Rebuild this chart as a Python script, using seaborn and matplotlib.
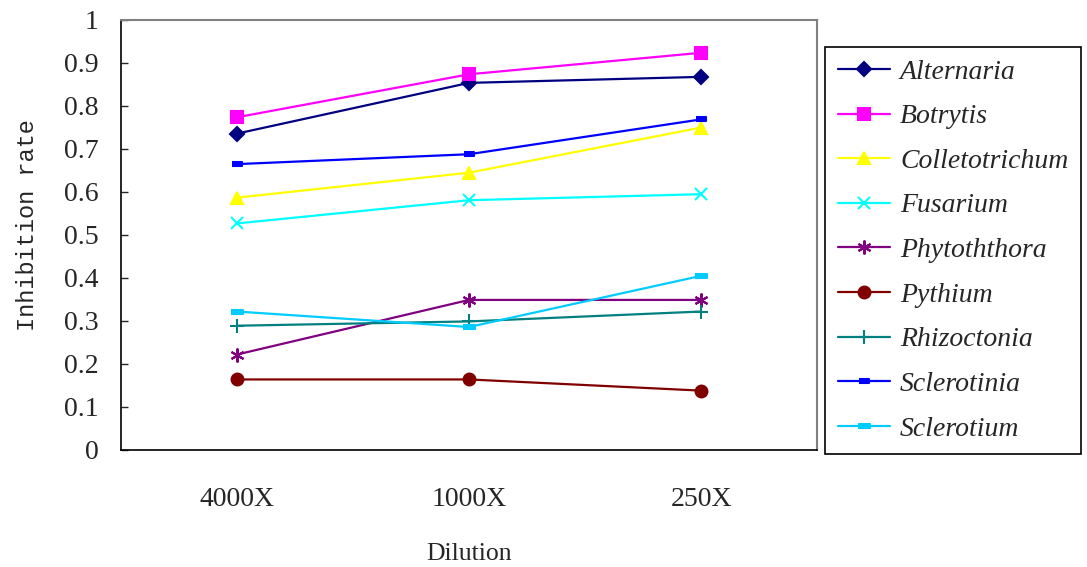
import matplotlib
matplotlib.use("Agg")
import matplotlib.pyplot as plt
import seaborn as sns
import pandas as pd

dilutions = ["4000X", "1000X", "250X"]
alternaria = [0.735, 0.853, 0.867]
botrytis = [0.773, 0.873, 0.923]
colletotrichum = [0.586, 0.644, 0.749]
fusarium = [0.526, 0.580, 0.594]
phytophthora = [0.221, 0.348, 0.348]
pythium = [0.163, 0.163, 0.137]
rhizoctonia = [0.288, 0.298, 0.321]
sclerotinia = [0.664, 0.687, 0.768]
sclerotium = [0.321, 0.285, 0.404]

series_names = ["Alternaria", "Botrytis", "Colletotrichum", "Fusarium",
                "Phytoththora", "Pythium", "Rhizoctonia", "Sclerotinia", "Sclerotium"]
series_values = [alternaria, botrytis, colletotrichum, fusarium,
                 phytophthora, pythium, rhizoctonia, sclerotinia, sclerotium]
y_ticks = [0, 0.1, 0.2, 0.3, 0.4, 0.5, 0.6, 0.7, 0.8, 0.9, 1]
y_tick_labels = ["0", "0.1", "0.2", "0.3", "0.4", "0.5", "0.6", "0.7", "0.8", "0.9", "1"]

colors = ["#000080", "#FF00FF", "#FFFF00", "#00FFFF", "#800080",
          "#800000", "#008080", "#0000FF", "#00CCFF"]
bar_small = [(-2, -0.8), (2, -0.8), (2, 0.8), (-2, 0.8)]
bar_big = [(-2.2, -0.9), (2.2, -0.9), (2.2, 0.9), (-2.2, 0.9)]
markers = ["D", "s", "^", "x", (6, 2, 0), "o", "+", bar_small, bar_big]
msizes = [7.5, 8.5, 9, 9, 10, 8.5, 10, 7, 8]

sns.set_theme(style="white")
plt.rcParams["font.family"] = ["Liberation Serif", "DejaVu Serif"]

rows = []
for name, vals in zip(series_names, series_values):
    for d, v in zip(dilutions, vals):
        rows.append({"Dilution": d, "Inhibition rate": v, "Series": name})
df = pd.DataFrame(rows)

fig = plt.figure(figsize=(10.87, 5.67), dpi=100)
ax = fig.add_axes([121 / 1087, 1 - 449.5 / 567, (817 - 121) / 1087, (449.5 - 19.7) / 567])

for name, c, m, ms in zip(series_names, colors, markers, msizes):
    sub = df[df["Series"] == name]
    sns.lineplot(data=sub, x="Dilution", y="Inhibition rate", ax=ax, color=c,
                 marker=m, markersize=ms, markeredgecolor=c, markerfacecolor=c,
                 markeredgewidth=1.5, linewidth=1.6, label=name, sort=False)

ax.set_xlim(-0.5, 2.5)
ax.set_ylim(0, 1)
ax.set_yticks(y_ticks)
ax.set_yticklabels(y_tick_labels)
ax.tick_params(axis="y", direction="in", length=5, width=1, labelsize=20, pad=16, left=True)
ax.tick_params(axis="x", length=0, labelsize=20, pad=27)
ax.set_xlabel("Dilution", fontsize=18.5, labelpad=22)
ax.set_ylabel("Inhibition rate", fontsize=17,
              family=["Liberation Mono", "DejaVu Sans Mono"])
ax.yaxis.set_label_coords(-0.118, 0.522)

for side in ["left", "bottom"]:
    ax.spines[side].set_color("black")
    ax.spines[side].set_linewidth(1.2)
for side in ["top", "right"]:
    ax.spines[side].set_color("#808080")
    ax.spines[side].set_linewidth(1.5)

handles, labels = ax.get_legend_handles_labels()
ax.get_legend().remove()
leg = fig.legend(handles, labels, loc="upper left",
                 bbox_to_anchor=(825 / 1087, 1 - 46.7 / 567),
                 prop={"family": "Liberation Serif", "style": "italic", "size": 20},
                 frameon=True, fancybox=False, edgecolor="black", framealpha=1,
                 handlelength=1.9, handletextpad=0.35, labelspacing=0.69,
                 borderpad=0.45, borderaxespad=0)
leg.get_frame().set_linewidth(1.2)

fig.savefig("out.png", dpi=100)
